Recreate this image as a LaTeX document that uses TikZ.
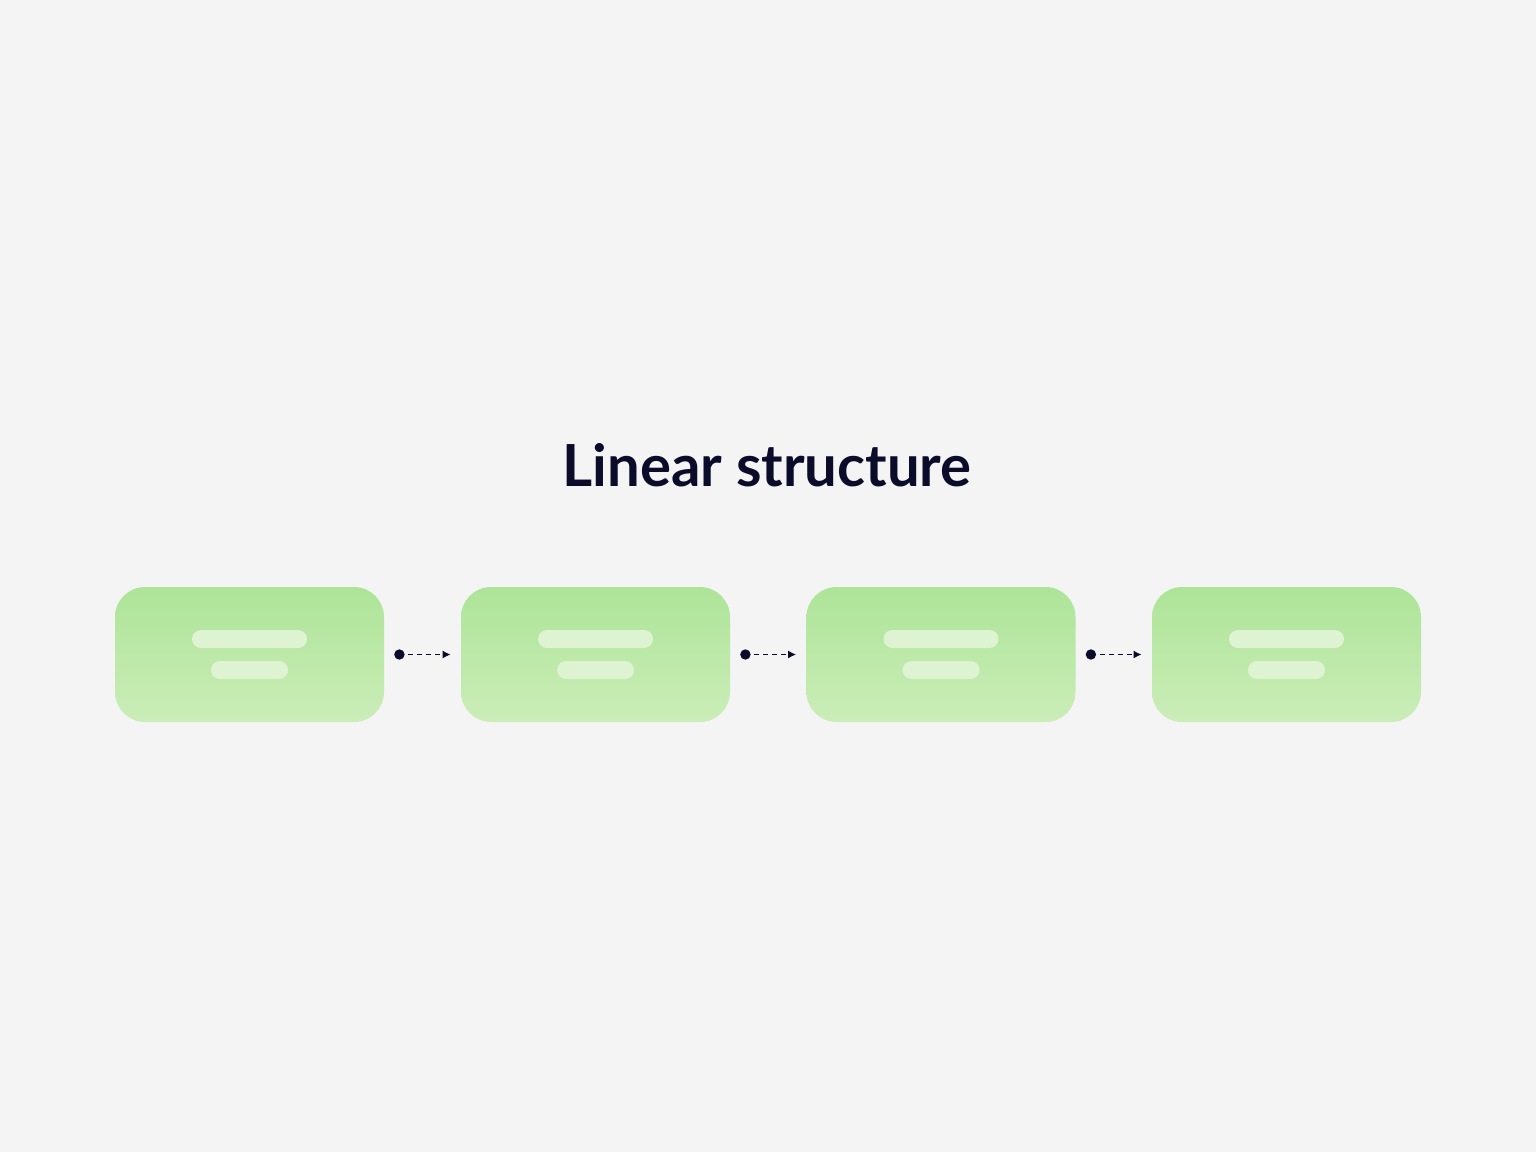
\documentclass[tikz,border=0pt]{standalone}
\usepackage{fontspec}
\setmainfont{Lato}
\usetikzlibrary{arrows.meta}
\definecolor{bg}{HTML}{F4F4F4}
\definecolor{gtop}{HTML}{ADE498}
\definecolor{gbot}{HTML}{CBEDB8}
\definecolor{ink}{HTML}{0B0B2A}
\definecolor{barc}{HTML}{DDF3D2}
\begin{document}
\begin{tikzpicture}[x=0.5pt,y=-0.5pt,
  box/.style={rounded corners=15pt,top color=gtop,bottom color=gbot,draw=none,minimum width=134.5pt,minimum height=67.5pt,inner sep=0pt},
  bar/.style={fill=barc,draw=none,rounded corners=4.5pt},
  conn/.style={draw=ink,line width=0.7pt,dash pattern=on 2.5pt off 2pt,-{Latex[length=4pt,width=4pt]}}]
\fill[bg] (0,0) rectangle (1536,1152);
\node[font=\bfseries\fontsize{29}{34}\selectfont,text=ink] (title) at (767,465) {Linear structure};
\foreach \i/\x in {1/249.5,2/595.5,3/941,4/1286.5}{
  \node[box] (b\i) at (\x,654.5) {};
  \fill[bar] (\x-57.5,630) rectangle (\x+57.5,648);
  \fill[bar] (\x-38.5,661) rectangle (\x+38.5,679);
}
\foreach \a/\b in {1/2,2/3,3/4}{
  \coordinate (s\a) at ([xshift=7.5pt]b\a.east);
  \coordinate (e\a) at ([xshift=-5pt]b\b.west);
  \fill[ink] (s\a) circle (2.6pt);
  \draw[conn] (s\a) -- (e\a);
}
\end{tikzpicture}
\end{document}
